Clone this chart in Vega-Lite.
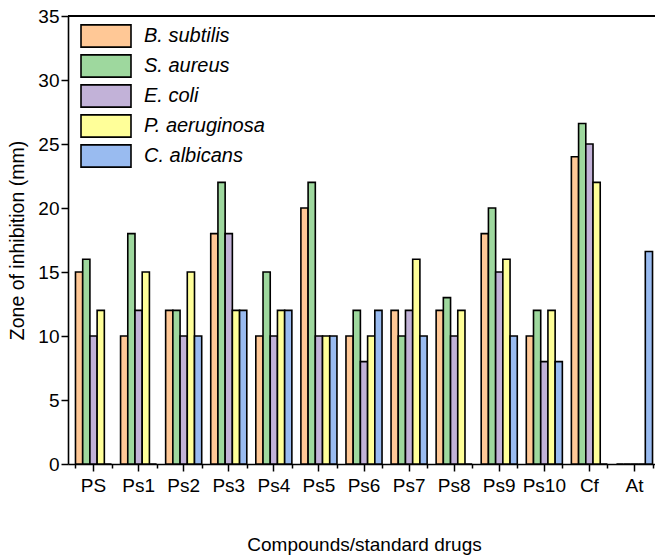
{
  "$schema": "https://vega.github.io/schema/vega-lite/v6.json",
  "width": 592,
  "height": 448,
  "autosize": {"type": "none"},
  "padding": {"left": 68, "top": 16, "right": 0, "bottom": 96},
  "background": "white",
  "config": {
    "font": "Liberation Sans",
    "view": {"stroke": null}
  },
  "data": {
    "values": [
      {"compound": "PS", "species": "B. subtilis", "zone": 15},
      {"compound": "PS", "species": "S. aureus", "zone": 16},
      {"compound": "PS", "species": "E. coli", "zone": 10},
      {"compound": "PS", "species": "P. aeruginosa", "zone": 12},
      {"compound": "PS", "species": "C. albicans", "zone": 0},
      {"compound": "Ps1", "species": "B. subtilis", "zone": 10},
      {"compound": "Ps1", "species": "S. aureus", "zone": 18},
      {"compound": "Ps1", "species": "E. coli", "zone": 12},
      {"compound": "Ps1", "species": "P. aeruginosa", "zone": 15},
      {"compound": "Ps1", "species": "C. albicans", "zone": 0},
      {"compound": "Ps2", "species": "B. subtilis", "zone": 12},
      {"compound": "Ps2", "species": "S. aureus", "zone": 12},
      {"compound": "Ps2", "species": "E. coli", "zone": 10},
      {"compound": "Ps2", "species": "P. aeruginosa", "zone": 15},
      {"compound": "Ps2", "species": "C. albicans", "zone": 10},
      {"compound": "Ps3", "species": "B. subtilis", "zone": 18},
      {"compound": "Ps3", "species": "S. aureus", "zone": 22},
      {"compound": "Ps3", "species": "E. coli", "zone": 18},
      {"compound": "Ps3", "species": "P. aeruginosa", "zone": 12},
      {"compound": "Ps3", "species": "C. albicans", "zone": 12},
      {"compound": "Ps4", "species": "B. subtilis", "zone": 10},
      {"compound": "Ps4", "species": "S. aureus", "zone": 15},
      {"compound": "Ps4", "species": "E. coli", "zone": 10},
      {"compound": "Ps4", "species": "P. aeruginosa", "zone": 12},
      {"compound": "Ps4", "species": "C. albicans", "zone": 12},
      {"compound": "Ps5", "species": "B. subtilis", "zone": 20},
      {"compound": "Ps5", "species": "S. aureus", "zone": 22},
      {"compound": "Ps5", "species": "E. coli", "zone": 10},
      {"compound": "Ps5", "species": "P. aeruginosa", "zone": 10},
      {"compound": "Ps5", "species": "C. albicans", "zone": 10},
      {"compound": "Ps6", "species": "B. subtilis", "zone": 10},
      {"compound": "Ps6", "species": "S. aureus", "zone": 12},
      {"compound": "Ps6", "species": "E. coli", "zone": 8},
      {"compound": "Ps6", "species": "P. aeruginosa", "zone": 10},
      {"compound": "Ps6", "species": "C. albicans", "zone": 12},
      {"compound": "Ps7", "species": "B. subtilis", "zone": 12},
      {"compound": "Ps7", "species": "S. aureus", "zone": 10},
      {"compound": "Ps7", "species": "E. coli", "zone": 12},
      {"compound": "Ps7", "species": "P. aeruginosa", "zone": 16},
      {"compound": "Ps7", "species": "C. albicans", "zone": 10},
      {"compound": "Ps8", "species": "B. subtilis", "zone": 12},
      {"compound": "Ps8", "species": "S. aureus", "zone": 13},
      {"compound": "Ps8", "species": "E. coli", "zone": 10},
      {"compound": "Ps8", "species": "P. aeruginosa", "zone": 12},
      {"compound": "Ps8", "species": "C. albicans", "zone": 0},
      {"compound": "Ps9", "species": "B. subtilis", "zone": 18},
      {"compound": "Ps9", "species": "S. aureus", "zone": 20},
      {"compound": "Ps9", "species": "E. coli", "zone": 15},
      {"compound": "Ps9", "species": "P. aeruginosa", "zone": 16},
      {"compound": "Ps9", "species": "C. albicans", "zone": 10},
      {"compound": "Ps10", "species": "B. subtilis", "zone": 10},
      {"compound": "Ps10", "species": "S. aureus", "zone": 12},
      {"compound": "Ps10", "species": "E. coli", "zone": 8},
      {"compound": "Ps10", "species": "P. aeruginosa", "zone": 12},
      {"compound": "Ps10", "species": "C. albicans", "zone": 8},
      {"compound": "Cf", "species": "B. subtilis", "zone": 24},
      {"compound": "Cf", "species": "S. aureus", "zone": 26.6},
      {"compound": "Cf", "species": "E. coli", "zone": 25},
      {"compound": "Cf", "species": "P. aeruginosa", "zone": 22},
      {"compound": "Cf", "species": "C. albicans", "zone": 0},
      {"compound": "At", "species": "B. subtilis", "zone": 0},
      {"compound": "At", "species": "S. aureus", "zone": 0},
      {"compound": "At", "species": "E. coli", "zone": 0},
      {"compound": "At", "species": "P. aeruginosa", "zone": 0},
      {"compound": "At", "species": "C. albicans", "zone": 16.6}
    ]
  },
  "resolve": {"axis": {"x": "independent"}},
  "layer": [
    {
      "mark": {"type": "bar", "opacity": 0},
      "encoding": {
        "x": {
          "field": "compound",
          "type": "nominal",
          "sort": ["PS", "Ps1", "Ps2", "Ps3", "Ps4", "Ps5", "Ps6", "Ps7", "Ps8", "Ps9", "Ps10", "Cf", "At"],
          "scale": {"paddingInner": 0.2, "paddingOuter": 0.166},
          "axis": {
            "orient": "bottom",
            "title": null,
            "labels": false,
            "domain": false,
            "tickBand": "extent",
            "tickColor": "black",
            "tickWidth": 1.5,
            "tickSize": 4
          }
        }
      }
    },
    {
      "mark": {"type": "bar", "stroke": "black", "strokeWidth": 1.6, "opacity": 1},
      "encoding": {
        "x": {
          "field": "compound",
          "type": "nominal",
          "sort": ["PS", "Ps1", "Ps2", "Ps3", "Ps4", "Ps5", "Ps6", "Ps7", "Ps8", "Ps9", "Ps10", "Cf", "At"],
          "scale": {"paddingInner": 0.2, "paddingOuter": 0.166},
          "axis": {
            "orient": "bottom",
            "title": "Compounds/standard drugs",
            "titleFontSize": 19,
            "titleFontWeight": "normal",
            "titleColor": "black",
            "titlePadding": 40,
            "labelAngle": 0,
            "labelFontSize": 19,
            "labelColor": "black",
            "labelPadding": 5,
            "domainColor": "black",
            "domainWidth": 1.6,
            "tickColor": "black",
            "tickWidth": 1.5,
            "tickSize": 7
          }
        },
        "xOffset": {
          "field": "species",
          "type": "nominal",
          "sort": ["B. subtilis", "S. aureus", "E. coli", "P. aeruginosa", "C. albicans"],
          "scale": {"paddingInner": 0, "paddingOuter": 0}
        },
        "y": {
          "field": "zone",
          "type": "quantitative",
          "scale": {"domain": [0, 35], "nice": false},
          "axis": {
            "title": "Zone of inhibition (mm)",
            "titleFontSize": 19.5,
            "titleFontWeight": "normal",
            "titleColor": "black",
            "titlePadding": 10,
            "values": [0, 2.5, 5, 7.5, 10, 12.5, 15, 17.5, 20, 22.5, 25, 27.5, 30, 32.5, 35],
            "labelExpr": "datum.value % 5 === 0 ? datum.label : ''",
            "labelFontSize": 19,
            "labelColor": "black",
            "labelPadding": 2,
            "grid": false,
            "domainColor": "black",
            "domainWidth": 1.6,
            "tickColor": "black",
            "tickWidth": 1.5,
            "tickSize": {"condition": {"test": "datum.value % 5 === 0", "value": 7}, "value": 4}
          }
        },
        "fill": {
          "field": "species",
          "type": "nominal",
          "sort": ["B. subtilis", "S. aureus", "E. coli", "P. aeruginosa", "C. albicans"],
          "scale": {
            "domain": ["B. subtilis", "S. aureus", "E. coli", "P. aeruginosa", "C. albicans"],
            "range": ["#FFC896", "#9ED89E", "#C2B2D8", "#FFFF99", "#99BBF0"]
          },
          "legend": {
            "title": null,
            "orient": "none",
            "legendX": 12,
            "legendY": 7,
            "symbolType": "M-2.083,-0.93H2.083V0.93H-2.083Z",
            "symbolSize": 576,
            "symbolOffset": 13,
            "symbolStrokeColor": "black",
            "symbolStrokeWidth": 1.6,
            "symbolOpacity": 1,
            "labelFontSize": 20,
            "labelFontStyle": "italic",
            "labelColor": "black",
            "labelOffset": 25,
            "rowPadding": 0,
            "padding": 0
          }
        }
      }
    },
    {
      "mark": {"type": "rule", "color": "black", "strokeWidth": 1.6},
      "encoding": {"y": {"datum": 35}}
    }
  ]
}
